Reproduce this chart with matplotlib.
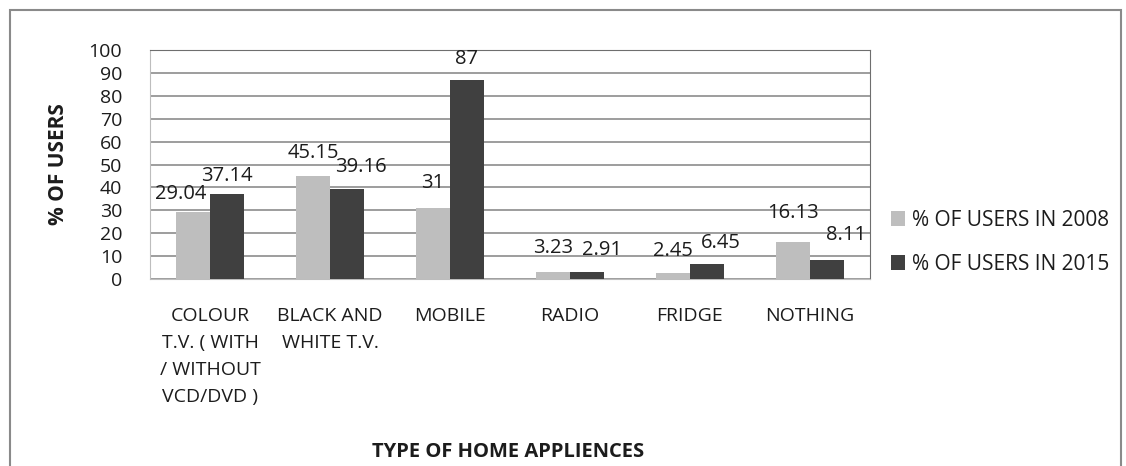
import matplotlib
matplotlib.use("Agg")
import matplotlib.pyplot as plt
from matplotlib.patches import Rectangle
import numpy as np

categories = ["COLOUR\nT.V. ( WITH\n/ WITHOUT\nVCD/DVD )", "BLACK AND\nWHITE T.V.",
              "MOBILE", "RADIO", "FRIDGE", "NOTHING"]
users_2008 = [29.04, 45.15, 31, 3.23, 2.45, 16.13]
users_2015 = [37.14, 39.16, 87, 2.91, 6.45, 8.11]
series_names = ["% OF USERS IN 2008", "% OF USERS IN 2015"]
yticks = list(range(0, 101, 10))

# label placement nudges (points) to mimic the original layout
nudge_2008 = [(-9, 6), (0, 9), (0, 11), (0, 10), (0, 9), (0, 14)]
nudge_2015 = [(0, 6), (10, 9), (0, 8), (11, 9), (10, 8), (14, 11)]

base = "Open Sans"
c2008 = "#bebebe"
c2015 = "#404040"
txt = "#1c1c1c"

fig = plt.figure(figsize=(11.26, 4.66), dpi=100)
fig.patches.append(Rectangle((10/1126, -0.1), (1121-10)/1126, (456+0.1*466)/466,
                             transform=fig.transFigure, fill=False,
                             edgecolor="#8a8a8a", linewidth=1.5))
ax = fig.add_axes([150/1126, 187/466, 720/1126, 229/466])

x = np.arange(len(categories))
w = 0.283
b1 = ax.bar(x - w/2, users_2008, w, color=c2008, label=series_names[0], zorder=3)
b2 = ax.bar(x + w/2, users_2015, w, color=c2015, label=series_names[1], zorder=3)

for bars, vals, nudges in ((b1, users_2008, nudge_2008), (b2, users_2015, nudge_2015)):
    for r, v, d in zip(bars, vals, nudges):
        ax.annotate(f"{v:g}", (r.get_x() + r.get_width()/2, v), xytext=d,
                    textcoords="offset points", ha="center", va="bottom",
                    fontsize=14.5, family=base, color=txt, zorder=4)

ax.set_ylim(0, 100)
ax.set_xlim(-0.5, len(categories) - 0.5)
ax.set_yticks(yticks)
ax.set_yticklabels([str(t) for t in yticks], fontsize=14, family=base, color=txt)
ax.set_xticks(x)
ax.set_xticklabels(categories, fontsize=14, family=base, color=txt, linespacing=1.66,
                   va="top")
ax.tick_params(axis="x", length=0, pad=20)
ax.tick_params(axis="y", length=0, pad=20)
ax.yaxis.grid(True, color="#8c8c8c", linewidth=1.2, zorder=0)
ax.set_axisbelow(True)
for s in ("left", "bottom"):
    ax.spines[s].set_color("#bdbdbd")
ax.spines["top"].set_color("#6e6e6e")
ax.spines["right"].set_color("#6e6e6e")

ax.set_ylabel("% OF USERS", fontsize=15, fontweight="bold", family=base, color=txt, labelpad=14)
fig.text(508/1126, 1 - 452/466, "TYPE OF HOME APPLIENCES", ha="center", va="center",
         fontsize=14.5, fontweight="bold", family=base, color=txt)

ax.legend(loc="center left", bbox_to_anchor=(1.003, 0.16), frameon=False,
          prop={"family": base, "size": 15}, handlelength=0.7, handleheight=0.7,
          handletextpad=0.3, labelspacing=1.1, labelcolor=txt)

fig.savefig("out.png", dpi=100)
